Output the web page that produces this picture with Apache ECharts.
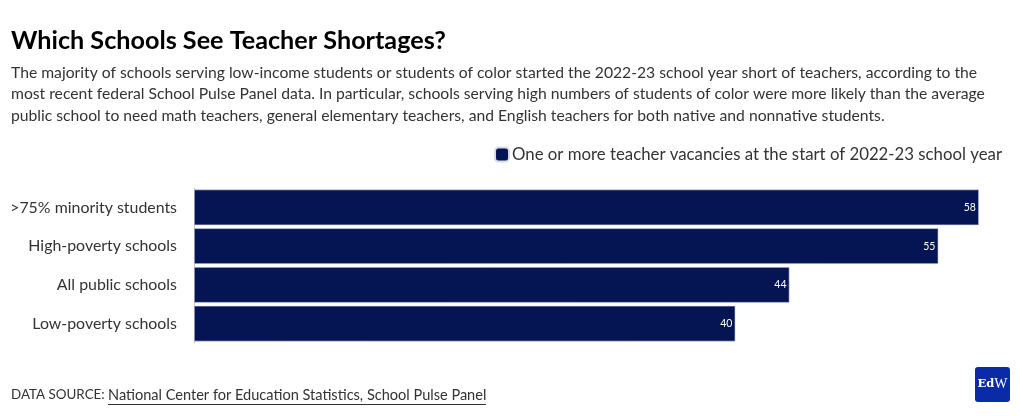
<!DOCTYPE html>
<html><head><meta charset="utf-8">
<script src="https://cdn.jsdelivr.net/npm/echarts@6/dist/echarts.min.js"></script>
<style>html,body{margin:0;padding:0;background:#fff}#c{width:1020px;height:416px}</style>
</head><body><div id="c"></div>
<script>
const categories = ['>75% minority students', 'High-poverty schools', 'All public schools', 'Low-poverty schools'];
const values = [58, 55, 44, 40];
const seriesName = 'One or more teacher vacancies at the start of 2022-23 school year';
const titleText = 'Which Schools See Teacher Shortages?';
const subtitleLines = [
  'The majority of schools serving low-income students or students of color started the 2022-23 school year short of teachers, according to the',
  'most recent federal School Pulse Panel data. In particular, schools serving high numbers of students of color were more likely than the average',
  'public school to need math teachers, general elementary teachers, and English teachers for both native and nonnative students.'
];
const sourceLabel = 'DATA SOURCE:';
const sourceLink = 'National Center for Education Statistics, School Pulse Panel';
const FONT = 'Lato';
const chart = echarts.init(document.getElementById('c'), null, {renderer: 'canvas'});
chart.setOption({
  animation: false,
  backgroundColor: '#fff',
  textStyle: {fontFamily: FONT},
  title: {
    text: titleText,
    subtext: subtitleLines.join('\n'),
    left: 6, top: 23, itemGap: 9,
    textStyle: {fontFamily: FONT, fontSize: 25.2, fontWeight: 'bold', color: '#000'},
    subtextStyle: {fontFamily: FONT, fontSize: 15.7, color: '#333', lineHeight: 21.5}
  },
  legend: {
    right: 13, top: 141,
    itemWidth: 14, itemHeight: 14, itemGap: 4,
    icon: 'roundRect',
    textStyle: {fontFamily: FONT, fontSize: 16.8, color: '#333', padding: [0,0,0,-2]},
    data: [seriesName]
  },
  grid: {left: 194, right: 14, top: 188, bottom: 73, containLabel: false},
  xAxis: {type: 'value', min: 0, max: 60, show: false},
  yAxis: {
    type: 'category', inverse: true, data: categories,
    axisLine: {show: true, lineStyle: {color: '#ccc'}},
    axisTick: {show: false},
    axisLabel: {fontFamily: FONT, fontSize: 15.9, color: '#333', margin: 17}
  },
  series: [{
    name: seriesName, type: 'bar', data: values,
    barCategoryGap: '8%',
    itemStyle: {color: '#051453', borderColor: '#d8dbe6', borderWidth: 0.6},
    label: {show: true, position: 'insideRight', color: '#fff', fontSize: 10.5, fontFamily: FONT, distance: 3}
  }],
  graphic: [
    {type: 'text', left: 11, top: 388.5, style: {text: sourceLabel, fontFamily: FONT, fontSize: 13.4, fill: '#333'}},
    {type: 'text', left: 108, top: 388, style: {text: sourceLink, fontFamily: FONT, fontSize: 14.55, fill: '#333'}},
    {type: 'rect', left: 108, top: 404, shape: {width: 378, height: 1}, style: {fill: '#333'}},
    {type: 'rect', left: 975, top: 367, shape: {width: 35, height: 35, r: 3}, style: {fill: '#0a2aa8'}},
    {type: 'text', x: 992.5, y: 384.5, style: {
      text: '{b|Ed}{r|W}', align: 'center', verticalAlign: 'middle',
      rich: {
        b: {fontFamily: 'DejaVu Serif', fontSize: 11.5, fontWeight: 'bold', fill: '#fff', color: '#fff'},
        r: {fontFamily: 'Liberation Serif', fontSize: 14, fill: '#fff', color: '#fff'}
      }
    }}
  ]
});
</script></body></html>
